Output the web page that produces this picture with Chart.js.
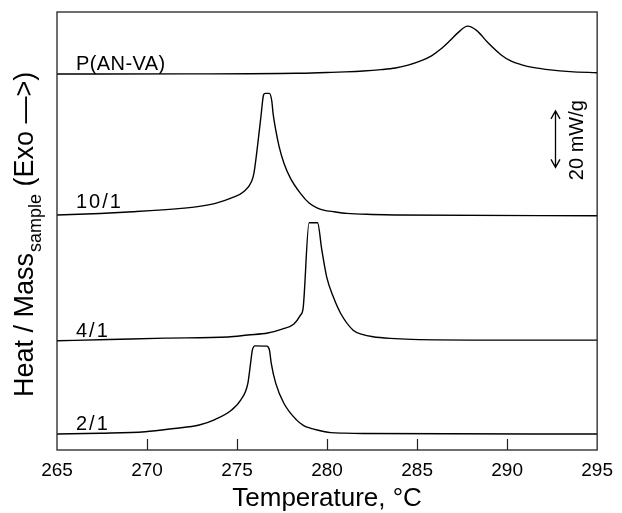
<!DOCTYPE html>
<html>
<head>
<meta charset="utf-8">
<title>DSC exotherms</title>
<script src="https://cdn.jsdelivr.net/npm/chart.js@4.4.1/dist/chart.umd.min.js"></script>
<style>
  html, body { margin: 0; padding: 0; background: #ffffff; }
  #wrap { width: 622px; height: 513px; }
</style>
</head>
<body>
<div id="wrap"><canvas id="dsc" width="622" height="513"></canvas></div>
<script>
// Temperature axis (°C)
const tempMin = 265;
const tempMax = 295;
const tempStep = 5;

// Sample names, bottom to top, and the vertical offset of each trace (mW/g)
const sampleNames = ['2/1', '4/1', '10/1', 'P(AN-VA)'];
const traceOffsets = [5.66, 38.9, 82.9, 133.5];

// Heat flow above each trace's baseline (mW/g) versus temperature (°C)
const temp21 = [265.0, 267.4, 269.9, 271.5, 272.9, 273.8, 274.7, 275.2, 275.6, 275.75, 275.85, 276.0, 276.65, 276.8, 276.9, 277.15, 277.6, 278.3, 278.7, 279.1, 279.45, 280.2, 281.0, 282.0, 295.0];
const heat21 = [0, 0.25, 0.8, 1.95, 3.2, 5.2, 8.5, 12.0, 17.9, 25.0, 29.7, 31.2, 31.1, 29.7, 25.0, 17.9, 10.9, 5.0, 3.0, 2.0, 1.4, 0.5, 0.3, 0.2, 0];

const temp41 = [265.0, 267.9, 271.0, 274.5, 275.6, 276.7, 277.5, 278.16, 278.52, 278.67, 279.0, 279.47, 279.71, 279.98, 280.35, 280.75, 281.45, 282.0, 282.54, 283.5, 284.7, 289.3, 295.0];
const heat41 = [-0.25, 0.18, 0.7, 1.1, 1.8, 2.5, 3.9, 5.7, 8.8, 11.3, 41.5, 41.5, 31.8, 22.3, 15.2, 9.5, 3.5, 1.9, 1.2, 0.6, 0.25, 0, 0];

const temp101 = [265.0, 267.4, 269.2, 271.9, 272.9, 273.8, 274.7, 275.4, 275.8, 275.93, 276.11, 276.33, 276.47, 276.56, 276.79, 276.93, 277.0, 277.15, 277.34, 277.61, 277.97, 278.52, 279.0, 279.44, 279.8, 280.4, 281.1, 282.5, 283.8, 295.0];
const heat101 = [0.25, 0.8, 1.4, 2.6, 3.3, 4.4, 6.3, 8.7, 12.0, 14.8, 23.2, 35.3, 42.7, 43.3, 43.3, 40.6, 36.2, 30.3, 24.4, 18.5, 13.2, 7.9, 4.5, 2.8, 2.0, 1.4, 0.85, 0.45, 0.25, 0];

const tempPAV = [265.0, 272.0, 278.3, 280.0, 281.0, 282.0, 283.0, 283.8, 284.5, 285.2, 285.8, 286.3, 286.8, 287.29, 287.8, 288.3, 288.94, 289.67, 290.2, 290.77, 291.5, 292.4, 293.5, 295.0];
const heatPAV = [-0.46, -0.4, -0.2, 0.1, 0.3, 0.6, 1.1, 1.7, 2.7, 4.2, 6.0, 8.3, 11.2, 14.3, 16.5, 15.0, 10.6, 6.3, 4.2, 2.9, 1.8, 1.0, 0.4, 0];

// Scale bar for the heat-flow axis
const scaleBarValue = 20;      // mW/g
const scaleBarBase = 100;      // lower end of the bar on the stacked axis
const scaleBarTemp = 292.65;   // horizontal placement, °C

const temps = [temp21, temp41, temp101, tempPAV];
const heats = [heat21, heat41, heat101, heatPAV];

const FONT = '"Liberation Sans", Arial, Helvetica, sans-serif';

const datasets = sampleNames.map((name, i) => ({
  label: name,
  data: temps[i].map((t, k) => ({ x: t, y: heats[i][k] + traceOffsets[i] })),
  borderColor: '#000000',
  borderWidth: 1.4,
  pointRadius: 0,
  fill: false,
  cubicInterpolationMode: 'monotone'
}));

const decorations = {
  id: 'decorations',
  afterDraw(chart) {
    const ctx = chart.ctx;
    const area = chart.chartArea;
    const xs = chart.scales.x;
    const ys = chart.scales.y;
    ctx.save();

    // frame around the plot
    ctx.strokeStyle = '#222222';
    ctx.lineWidth = 1.3;
    ctx.strokeRect(area.left, area.top, area.right - area.left, area.bottom - area.top);

    // inward tick marks on the temperature axis
    ctx.lineWidth = 1.2;
    ctx.beginPath();
    for (let t = tempMin + tempStep; t < tempMax; t += tempStep) {
      const px = Math.round(xs.getPixelForValue(t)) + 0.5;
      ctx.moveTo(px, area.bottom);
      ctx.lineTo(px, area.bottom - 11);
    }
    ctx.stroke();

    // sample names above the left end of each trace
    ctx.fillStyle = '#000000';
    ctx.font = '20px ' + FONT;
    ctx.textAlign = 'left';
    ctx.textBaseline = 'alphabetic';
    const gaps = [4, 3.5, 7, 4];
    sampleNames.forEach((name, i) => {
      const y0 = ys.getPixelForValue(heats[i][0] + traceOffsets[i]);
      ctx.letterSpacing = name.includes('/') ? '2px' : '0.4px';
      ctx.fillText(name, xs.getPixelForValue(tempMin) + 19, y0 - gaps[i]);
    });
    ctx.letterSpacing = '0px';

    // scale bar: double-headed arrow spanning scaleBarValue
    const ax = Math.round(xs.getPixelForValue(scaleBarTemp)) + 0.5;
    const yLo = ys.getPixelForValue(scaleBarBase);
    const yHi = ys.getPixelForValue(scaleBarBase + scaleBarValue);
    ctx.lineWidth = 1.3;
    ctx.strokeStyle = '#000000';
    ctx.beginPath();
    ctx.moveTo(ax, yLo);
    ctx.lineTo(ax, yHi);
    ctx.moveTo(ax - 4.5, yHi + 8);
    ctx.lineTo(ax, yHi);
    ctx.lineTo(ax + 4.5, yHi + 8);
    ctx.moveTo(ax - 4.5, yLo - 8);
    ctx.lineTo(ax, yLo);
    ctx.lineTo(ax + 4.5, yLo - 8);
    ctx.stroke();

    ctx.save();
    ctx.translate(ax + 22, (yLo + yHi) / 2 + 1);
    ctx.rotate(-Math.PI / 2);
    ctx.font = '20px ' + FONT;
    ctx.textAlign = 'center';
    ctx.textBaseline = 'middle';
    ctx.fillText(scaleBarValue + ' mW/g', 0, 0);
    ctx.restore();

    // heat-flow axis title with subscript
    ctx.save();
    ctx.translate(33, 397);
    ctx.rotate(-Math.PI / 2);
    ctx.textAlign = 'left';
    ctx.textBaseline = 'alphabetic';
    let cx = 0;
    ctx.font = '27px ' + FONT;
    const part1 = 'Heat / Mass';
    ctx.fillText(part1, cx, 0);
    cx += ctx.measureText(part1).width;
    ctx.font = '18px ' + FONT;
    const sub = 'sample';
    ctx.fillText(sub, cx + 1, 8);
    cx += ctx.measureText(sub).width + 1;
    ctx.font = '27px ' + FONT;
    ctx.fillText(' (Exo \u2014>)', cx, 0);
    ctx.restore();

    ctx.restore();
  }
};

new Chart(document.getElementById('dsc'), {
  type: 'line',
  data: { datasets },
  options: {
    responsive: false,
    animation: false,
    devicePixelRatio: 1,
    layout: { padding: { left: 57, right: 18, top: 12, bottom: 0 } },
    plugins: { legend: { display: false }, tooltip: { enabled: false } },
    scales: {
      x: {
        type: 'linear',
        min: tempMin,
        max: tempMax,
        grid: { display: false, drawTicks: false },
        border: { display: false },
        ticks: {
          stepSize: tempStep,
          padding: 9,
          color: '#000000',
          font: { family: FONT, size: 19 }
        },
        title: {
          display: true,
          text: 'Temperature, \u00B0C',
          color: '#000000',
          font: { family: FONT, size: 26, lineHeight: 1.1 },
          padding: { top: 0, bottom: 0 }
        },
        afterFit(scale) { scale.height = 63; }
      },
      y: {
        type: 'linear',
        display: false,
        min: 0,
        max: 155
      }
    }
  },
  plugins: [decorations]
});
</script>
</body>
</html>
